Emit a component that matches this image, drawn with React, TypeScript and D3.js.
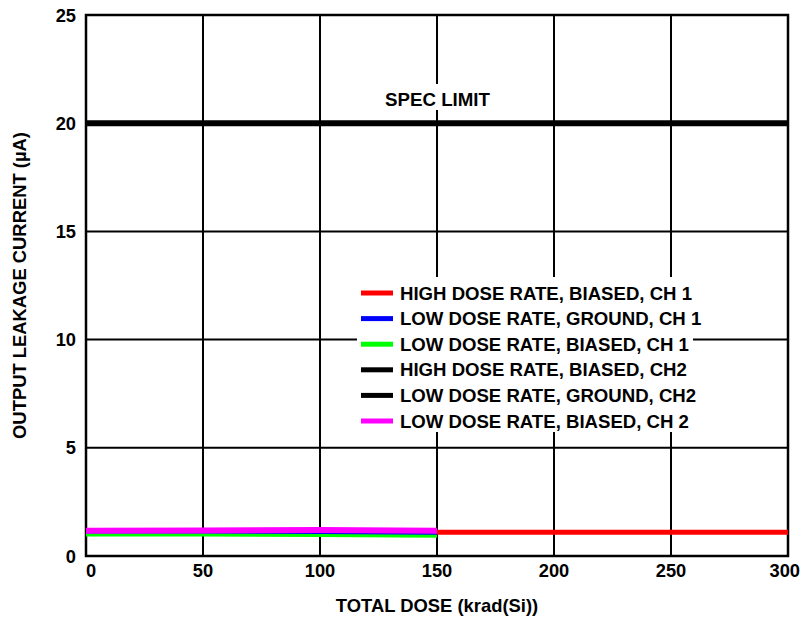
import React from "react";
import * as d3 from "d3";

const W = 801;
const H = 618;
const margin = { left: 86, right: 13, top: 15, bottom: 62 };

const xTicks = [0, 50, 100, 150, 200, 250, 300];
const yTicks = [0, 5, 10, 15, 20, 25];
const specLimit = 20;

// Series values: total dose (krad(Si)) and leakage current (µA)
const doseHigh = [0, 50, 100, 150, 200, 250, 300];
const doseLow = [0, 50, 100, 150];

const highBiasedCh1 = [1.1, 1.1, 1.1, 1.1, 1.1, 1.1, 1.1];
const lowGroundCh1 = [1.0, 1.02, 1.03, 1.02];
const lowBiasedCh1 = [0.97, 0.97, 0.95, 0.91];
const highBiasedCh2 = [1.1, 1.1, 1.12, 1.1];
const lowGroundCh2 = [1.1, 1.12, 1.13, 1.1];
const lowBiasedCh2 = [1.17, 1.18, 1.2, 1.17];

const seriesNames = [
  "HIGH DOSE RATE, BIASED, CH 1",
  "LOW DOSE RATE, GROUND, CH 1",
  "LOW DOSE RATE, BIASED, CH 1",
  "HIGH DOSE RATE, BIASED, CH2",
  "LOW DOSE RATE, GROUND, CH2",
  "LOW DOSE RATE, BIASED, CH 2",
];
const seriesColors = ["#ff0000", "#0000ff", "#00ff00", "#000000", "#000000", "#ff00ff"];
const seriesWidths = [5, 3, 3, 4, 4, 6];

const series = [
  { x: doseHigh, y: highBiasedCh1 },
  { x: doseLow, y: lowGroundCh1 },
  { x: doseLow, y: lowBiasedCh1 },
  { x: doseLow, y: highBiasedCh2 },
  { x: doseLow, y: lowGroundCh2 },
  { x: doseLow, y: lowBiasedCh2 },
];
// black channel-2 traces sit underneath, magenta on top
const drawOrder = [3, 4, 0, 1, 2, 5];

const FONT = "'Liberation Sans', Arial, Helvetica, sans-serif";

export default function App() {
  const x = d3.scaleLinear().domain([0, 300]).range([margin.left, W - margin.right]);
  const y = d3.scaleLinear().domain([0, 25]).range([H - margin.bottom, margin.top]);
  const line = d3
    .line<[number, number]>()
    .x((d) => x(d[0]))
    .y((d) => y(d[1]));

  const x0 = x(0), x1 = x(300), y0 = y(0), y1 = y(25);
  const legendX = 361;
  const legendY = 293;
  const legendStep = 25.6;

  return (
    <svg width={W} height={H} style={{ position: "absolute", left: 0, top: 0, background: "#fff" }} fontFamily={FONT}>
      <rect x={0} y={0} width={W} height={H} fill="#fff" />
      {/* grid */}
      {xTicks.map((t) => (
        <line key={"gx" + t} x1={x(t)} x2={x(t)} y1={y1} y2={y0} stroke="#000" strokeWidth={2} />
      ))}
      {yTicks.map((t) => (
        <line key={"gy" + t} x1={x0} x2={x1} y1={y(t)} y2={y(t)} stroke="#000" strokeWidth={2} />
      ))}
      <rect x={x0} y={y1} width={x1 - x0} height={y0 - y1} fill="none" stroke="#000" strokeWidth={2.5} />

      {/* spec limit */}
      <line x1={x0} x2={x1} y1={y(specLimit)} y2={y(specLimit)} stroke="#000" strokeWidth={6} />
      <rect x={383} y={84} width={109} height={26} fill="#fff" />
      <text x={437.5} y={106} textAnchor="middle" fontSize={18.7} fontWeight="bold">SPEC LIMIT</text>

      {/* data */}
      {drawOrder.map((i) => (
        <path
          key={"s" + i}
          d={line(series[i].x.map((v, k) => [v, series[i].y[k]]) as [number, number][]) || ""}
          fill="none"
          stroke={seriesColors[i]}
          strokeWidth={seriesWidths[i]}
        />
      ))}

      {/* legend */}
      <rect x={357} y={277} width={336} height={155} fill="#fff" />
      {seriesNames.map((name, i) => (
        <g key={"l" + i}>
          <line
            x1={legendX}
            x2={legendX + 32}
            y1={legendY + i * legendStep}
            y2={legendY + i * legendStep}
            stroke={seriesColors[i]}
            strokeWidth={5}
          />
          <text x={400} y={legendY + i * legendStep + 6.5} fontSize={18.6} fontWeight="bold">
            {name}
          </text>
        </g>
      ))}

      {/* axis tick labels */}
      {xTicks.map((t, i) => (
        <text
          key={"tx" + t}
          x={i === xTicks.length - 1 ? W - 1 : x(t)}
          y={577}
          textAnchor={i === 0 ? "start" : i === xTicks.length - 1 ? "end" : "middle"}
          fontSize={18.3}
          fontWeight="bold"
        >
          {t}
        </text>
      ))}
      {yTicks.map((t) => (
        <text key={"ty" + t} x={76} y={y(t) + 6.5} textAnchor="end" fontSize={18.3} fontWeight="bold">
          {t}
        </text>
      ))}

      {/* axis titles */}
      <text x={437} y={612} textAnchor="middle" fontSize={18.4} fontWeight="bold">
        TOTAL DOSE (krad(Si))
      </text>
      <text
        transform={`translate(26, ${(y0 + y1) / 2}) rotate(-90)`}
        textAnchor="middle"
        fontSize={18.4}
        fontWeight="bold"
      >
        OUTPUT LEAKAGE CURRENT (µA)
      </text>
    </svg>
  );
}
